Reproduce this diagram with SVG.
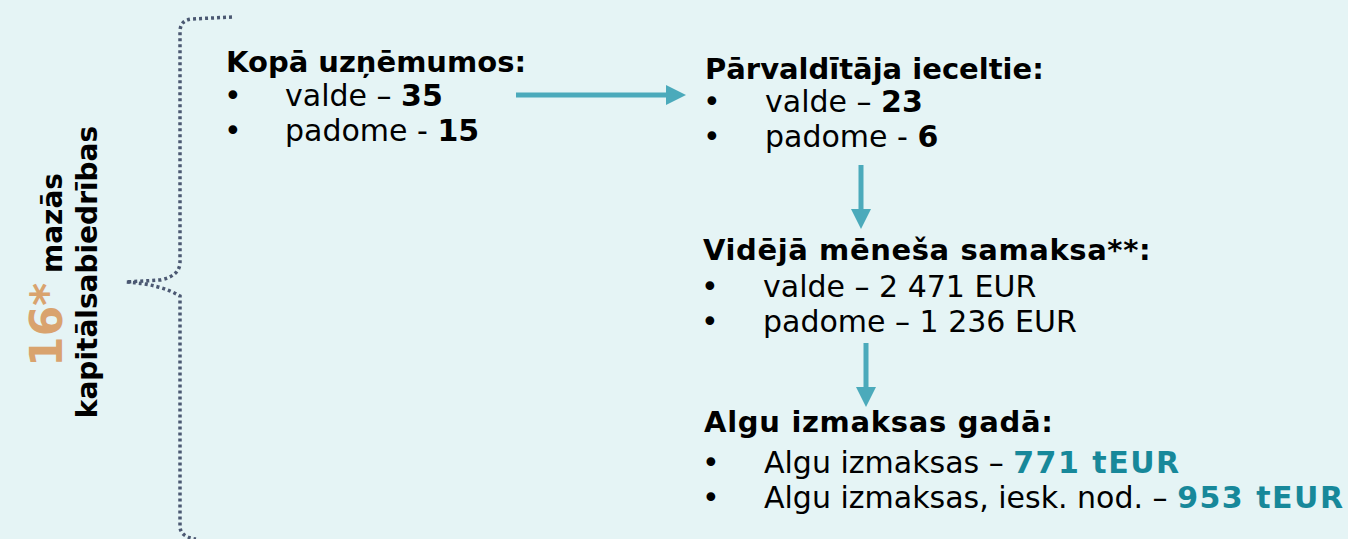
<svg xmlns="http://www.w3.org/2000/svg" width="1348" height="539" viewBox="0 0 1348 539">
<defs>
<style>
.t{font-family:"DejaVu Sans",Verdana,sans-serif;font-size:30px;fill:#000}
.h{font-weight:bold;font-size:29px}
.b{font-weight:bold}
.v{font-weight:bold;font-size:28px}
.hl{font-weight:bold;fill:#17889A;letter-spacing:1.5px}
.arr{stroke:#4BAABB;stroke-width:5;fill:none}
</style>
<marker id="ah" markerWidth="4" markerHeight="4" refX="0" refY="2" orient="auto" markerUnits="strokeWidth"><path d="M0,0 L4,2 L0,4 Z" fill="#4BAABB"/></marker>
</defs>
<rect width="1348" height="539" fill="#E5F4F5"/>
<g id="brace">
<path d="M232,17 L192,19 Q180,20 180,32 L180,262 Q180,276 160,280 L126,282 Q160,284 180,296 L180,526 Q180,537 196,539" fill="none" stroke="#4B5872" stroke-width="3.5" stroke-dasharray="3,3"/>
</g>
<g id="label">
<text class="t v" transform="translate(62,270) rotate(-90)" text-anchor="middle"><tspan fill="#D9A36E" style="font-size:44px">16*</tspan> mazās</text>
<text class="t v" transform="translate(97,272) rotate(-90)" text-anchor="middle">kapitālsabiedrības</text>
</g>
<g id="node-kopa">
<text class="t h" x="226" y="72">Kopā uzņēmumos:</text>
<text class="t" x="224" y="106">•</text><text class="t" x="285" y="106">valde – <tspan class="b">35</tspan></text>
<text class="t" x="224" y="141">•</text><text class="t" x="285" y="141">padome - <tspan class="b">15</tspan></text>
</g>
<g id="node-parvalditaja">
<text class="t h" x="705" y="79">Pārvaldītāja ieceltie:</text>
<text class="t" x="703" y="112">•</text><text class="t" x="765" y="112">valde – <tspan class="b">23</tspan></text>
<text class="t" x="703" y="147">•</text><text class="t" x="765" y="147">padome - <tspan class="b">6</tspan></text>
</g>
<g id="node-videja">
<text class="t h" x="703" y="260" letter-spacing="0.6">Vidējā mēneša samaksa**:</text>
<text class="t" x="701" y="297">•</text><text class="t" x="763" y="297">valde – 2 471 EUR</text>
<text class="t" x="701" y="332">•</text><text class="t" x="763" y="332">padome – 1 236 EUR</text>
</g>
<g id="node-algu">
<text class="t h" x="704" y="432" letter-spacing="0.7">Algu izmaksas gadā:</text>
<text class="t" x="702" y="473">•</text><text class="t" x="764" y="473">Algu izmaksas – <tspan class="hl">771 tEUR</tspan></text>
<text class="t" x="702" y="508">•</text><text class="t" x="764" y="508">Algu izmaksas, iesk. nod. – <tspan class="hl">953 tEUR</tspan></text>
</g>
<g id="connectors">
<line class="arr" x1="516" y1="95" x2="666" y2="95" marker-end="url(#ah)"/>
<line class="arr" x1="861" y1="165" x2="861" y2="209" marker-end="url(#ah)"/>
<line class="arr" x1="866" y1="343" x2="866" y2="387" marker-end="url(#ah)"/>
</g>
</svg>
